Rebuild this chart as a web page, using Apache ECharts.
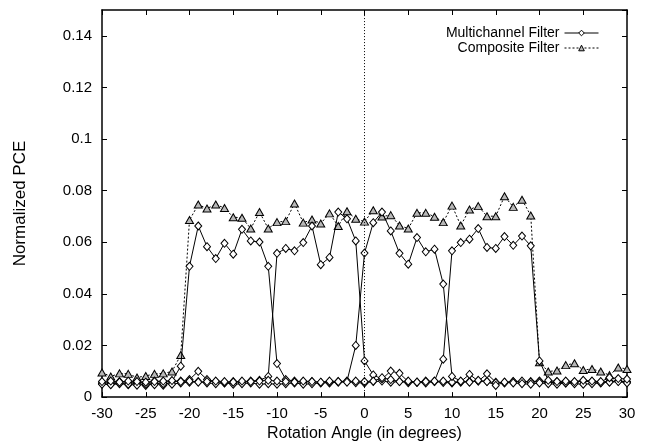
<!DOCTYPE html>
<html>
<head>
<meta charset="utf-8">
<script src="https://cdn.jsdelivr.net/npm/echarts@6/dist/echarts.min.js"></script>
<style>
html,body{margin:0;padding:0;background:#fff;}
#chart{width:649px;height:447px;}
</style>
</head>
<body>
<div id="chart"></div>
<script>
// Rotation angles, -30..30 in 1 degree steps
const angles = [-30,-29,-28,-27,-26,-25,-24,-23,-22,-21,-20,-19,-18,-17,-16,-15,-14,-13,-12,-11,-10,-9,-8,-7,-6,-5,-4,-3,-2,-1,0,1,2,3,4,5,6,7,8,9,10,11,12,13,14,15,16,17,18,19,20,21,22,23,24,25,26,27,28,29,30];

// Multichannel filter channels (one per 10-degree band)
const multiA = [
  0.0055,0.0056,0.0060,0.0058,0.0057,0.0055,0.0062,0.0058,0.0061,0.0120,
  0.0507,0.0663,0.0583,0.0537,0.0596,0.0554,0.0650,0.0605,0.0601,0.0507,
  0.0130,0.0068,0.0062,0.0058,0.0060,0.0057,0.0055,0.0058,0.0060,0.0056,
  0.0055,
  0.0060,0.0062,0.0058,0.0060,0.0056,0.0058,0.0062,0.0060,0.0057,0.0055,
  0.0058,0.0060,0.0062,0.0090,0.0058,0.0055,0.0060,0.0058,0.0060,0.0062,
  0.0058,0.0055,0.0060,0.0058,0.0062,0.0060,0.0057,0.0060,0.0062,0.0058];
const multiB = [
  0.0052,0.0050,0.0055,0.0048,0.0056,0.0045,0.0058,0.0046,0.0060,0.0062,
  0.0068,0.0100,0.0068,0.0060,0.0055,0.0060,0.0056,0.0062,0.0065,0.0080,
  0.0557,0.0576,0.0567,0.0599,0.0663,0.0513,0.0541,0.0717,0.0691,0.0605,
  0.0140,
  0.0086,0.0070,0.0101,0.0092,0.0060,0.0058,0.0055,0.0060,0.0062,0.0058,
  0.0060,0.0088,0.0062,0.0060,0.0055,0.0058,0.0060,0.0062,0.0058,0.0060,
  0.0058,0.0060,0.0055,0.0058,0.0062,0.0060,0.0058,0.0060,0.0062,0.0060];
const multiC = [
  0.0050,0.0048,0.0052,0.0050,0.0046,0.0050,0.0048,0.0052,0.0050,0.0055,
  0.0058,0.0060,0.0055,0.0052,0.0056,0.0050,0.0052,0.0055,0.0050,0.0052,
  0.0050,0.0052,0.0055,0.0050,0.0052,0.0055,0.0058,0.0060,0.0062,0.0200,
  0.0558,
  0.0676,0.0717,0.0644,0.0557,0.0515,0.0618,0.0563,0.0573,0.0438,0.0080,
  0.0062,0.0058,0.0065,0.0060,0.0045,0.0058,0.0055,0.0052,0.0050,0.0055,
  0.0052,0.0050,0.0055,0.0052,0.0050,0.0052,0.0055,0.0058,0.0060,0.0055];
const multiD = [
  0.0060,0.0062,0.0058,0.0062,0.0060,0.0058,0.0060,0.0062,0.0064,0.0060,
  0.0062,0.0058,0.0060,0.0062,0.0060,0.0058,0.0062,0.0060,0.0062,0.0065,
  0.0062,0.0060,0.0058,0.0062,0.0060,0.0058,0.0062,0.0060,0.0058,0.0062,
  0.0060,
  0.0062,0.0075,0.0068,0.0060,0.0062,0.0058,0.0060,0.0062,0.0147,0.0567,
  0.0599,0.0612,0.0653,0.0580,0.0576,0.0622,0.0588,0.0624,0.0586,0.0140,
  0.0065,0.0060,0.0062,0.0060,0.0065,0.0062,0.0060,0.0075,0.0072,0.0070];
// Composite filter
const composite = [
  0.0095,0.0080,0.0092,0.0090,0.0076,0.0082,0.0090,0.0092,0.0099,0.0163,
  0.0686,0.0746,0.0731,0.0746,0.0733,0.0697,0.0695,0.0653,0.0717,0.0653,
  0.0678,0.0682,0.0750,0.0676,0.0688,0.0673,0.0712,0.0663,0.0720,0.0691,
  0.0680,
  0.0724,0.0700,0.0705,0.0665,0.0653,0.0714,0.0714,0.0699,0.0678,0.0742,
  0.0665,0.0727,0.0740,0.0701,0.0701,0.0778,0.0737,0.0765,0.0704,0.0135,
  0.0099,0.0103,0.0124,0.0131,0.0105,0.0109,0.0099,0.0085,0.0115,0.0109];

const xTicks = {min: -30, max: 30, interval: 5};
const yTicks = {min: 0, max: 0.15, interval: 0.02};
const zeroLine = 0;

const FONT = '"Liberation Sans", Arial, Helvetica, sans-serif';
const pair = arr => angles.map((a, i) => [a, arr[i]]);

function multiSeries(arr, withMark) {
  const s = {
    name: 'Multichannel Filter',
    type: 'line',
    data: pair(arr),
    symbol: 'diamond',
    symbolSize: [7, 8],
    itemStyle: {color: '#fff', borderColor: '#000', borderWidth: 1},
    lineStyle: {color: '#000', width: 1},
    z: 3
  };
  if (withMark) {
    s.markLine = {
      silent: true,
      symbol: 'none',
      label: {show: false},
      lineStyle: {color: '#000', type: [1, 2], width: 1},
      data: [{xAxis: zeroLine}]
    };
  }
  return s;
}

const chart = echarts.init(document.getElementById('chart'), null, {renderer: 'canvas'});
const axisCommon = {
  axisLine: {show: true, onZero: false, lineStyle: {color: '#000', width: 1.5}},
  axisTick: {show: true, inside: true, length: 5, lineStyle: {color: '#000', width: 1}},
  splitLine: {show: false}
};
chart.setOption({
  animation: false,
  backgroundColor: '#fff',
  textStyle: {fontFamily: FONT, color: '#000'},
  grid: {left: 102, right: 22, top: 10, bottom: 48},
  legend: {
    orient: 'vertical',
    right: 50,
    top: 26,
    align: 'right',
    itemWidth: 34,
    itemHeight: 7,
    itemGap: 1,
    padding: 0,
    lineStyle: {width: 1},
    itemStyle: {borderWidth: 1},
    textStyle: {fontFamily: FONT, fontSize: 14, color: '#000', padding: [0, 0, 0, 0]},
    data: ['Multichannel Filter', 'Composite Filter']
  },
  xAxis: [
    Object.assign({
      type: 'value', min: xTicks.min, max: xTicks.max, interval: xTicks.interval,
      position: 'bottom',
      name: 'Rotation Angle (in degrees)', nameLocation: 'middle', nameGap: 25,
      nameTextStyle: {fontFamily: FONT, fontSize: 16, color: '#000'},
      axisLabel: {fontFamily: FONT, fontSize: 15, color: '#000', margin: 9}
    }, axisCommon),
    Object.assign({
      type: 'value', min: xTicks.min, max: xTicks.max, interval: xTicks.interval,
      position: 'top', axisLabel: {show: false}
    }, axisCommon)
  ],
  yAxis: [
    Object.assign({
      type: 'value', min: yTicks.min, max: yTicks.max, interval: yTicks.interval,
      position: 'left',
      name: 'Normalized PCE', nameLocation: 'middle', nameGap: 73,
      nameTextStyle: {fontFamily: FONT, fontSize: 17, color: '#000'},
      axisLabel: {fontFamily: FONT, fontSize: 15, color: '#000', margin: 10, showMaxLabel: false}
    }, axisCommon),
    Object.assign({
      type: 'value', min: yTicks.min, max: yTicks.max, interval: yTicks.interval,
      position: 'right', axisLabel: {show: false}
    }, axisCommon)
  ],
  series: [
    multiSeries(multiA, true),
    multiSeries(multiB, false),
    multiSeries(multiC, false),
    multiSeries(multiD, false),
    {
      name: 'Composite Filter',
      type: 'line',
      data: pair(composite),
      symbol: 'triangle',
      symbolSize: [8, 7],
      itemStyle: {color: '#b8b8b8', borderColor: '#000', borderWidth: 1},
      lineStyle: {color: '#000', width: 1, type: [2, 2]},
      z: 2
    }
  ]
});
</script>
</body>
</html>
